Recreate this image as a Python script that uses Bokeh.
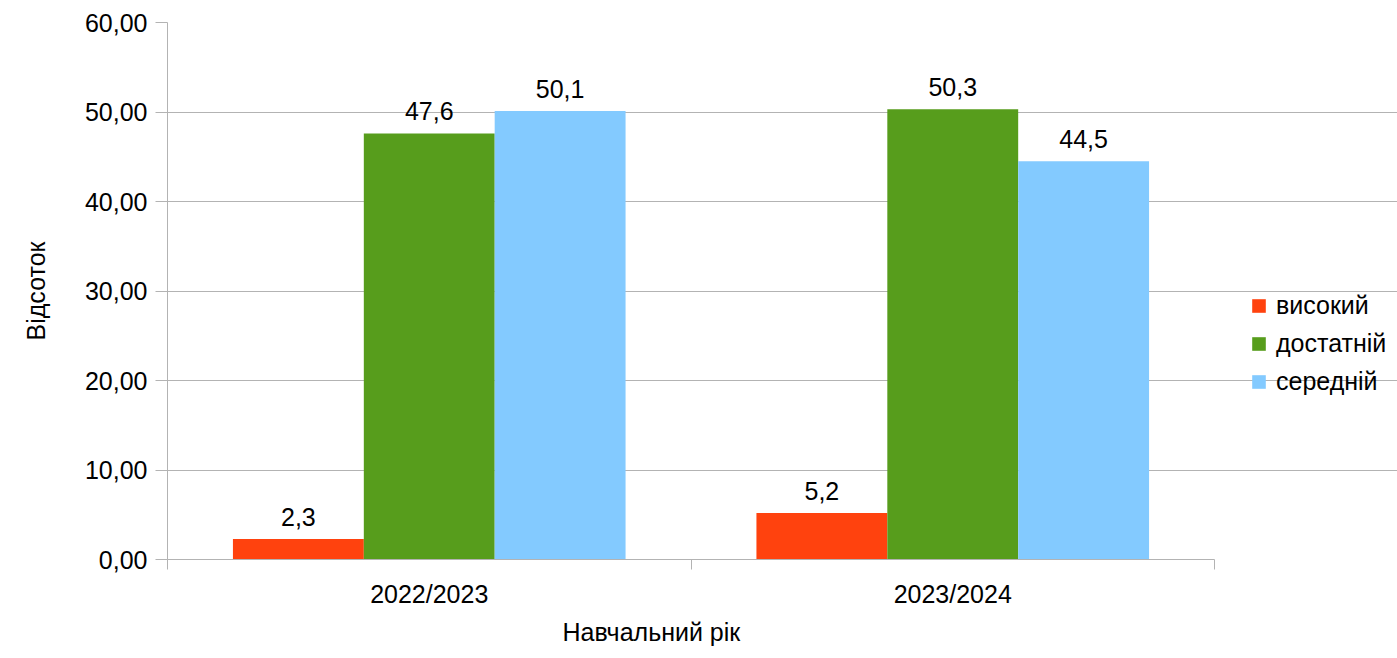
from bokeh.plotting import figure
from bokeh.models import (Range1d, FixedTicker, ColumnDataSource, LabelSet, Legend, LegendItem, Title)
from bokeh.core.properties import value
from bokeh.embed import file_html
from bokeh.resources import INLINE

# ---- data ----
categories = ["2022/2023", "2023/2024"]
series_names = ["високий", "достатній", "середній"]
vysokyi = [2.3, 5.2]
dostatnii = [47.6, 50.3]
serednii = [50.1, 44.5]
series_values = [vysokyi, dostatnii, serednii]
y_ticks = [0, 10, 20, 30, 40, 50, 60]
y_tick_labels = ["0,00", "10,00", "20,00", "30,00", "40,00", "50,00", "60,00"]
colors = ["#ff420e", "#579d1c", "#83caff"]
offsets = [-0.25, 0.0, 0.25]
FONT = "Liberation Sans"
FS = "25px"

# plot area spans 167..1214 px for the categories; frame extended to the right edge
# so that the legend (drawn inside the frame) is not clipped
n = len(categories)
x_end = n * (1397 - 167) / (1214 - 167)

p = figure(width=1397, height=658, x_range=Range1d(0, x_end), y_range=Range1d(0, 60),
           output_backend="svg", toolbar_location=None,
           min_border_left=167, min_border_right=0, min_border_top=22, min_border_bottom=99)
p.outline_line_color = None
p.background_fill_color = "white"
p.border_fill_color = "white"

p.xgrid.grid_line_color = None
p.ygrid.grid_line_color = "#b3b3b3"
p.ygrid.ticker = FixedTicker(ticks=y_ticks)
p.ygrid.bounds = (0, n)

# y axis
yax = p.yaxis[0]
yax.ticker = FixedTicker(ticks=y_ticks, minor_ticks=[])
yax.major_label_overrides = {t: l for t, l in zip(y_ticks, y_tick_labels)}
yax.axis_line_color = "#b3b3b3"
yax.major_tick_line_color = "#b3b3b3"
yax.major_tick_out = 12
yax.major_tick_in = 0
yax.minor_tick_line_color = None
yax.major_label_standoff = 8
yax.major_label_text_font = FONT
yax.major_label_text_font_size = FS
yax.major_label_text_color = "black"
yax.axis_label = "Відсоток"
yax.axis_label_text_font = FONT
yax.axis_label_text_font_size = FS
yax.axis_label_text_font_style = "normal"
yax.axis_label_text_color = "black"
yax.axis_label_standoff = 32

# x axis: labels at centres, ticks at boundaries (minor ticks)
xax = p.xaxis[0]
centres = [i + 0.5 for i in range(n)]
bounds = [i for i in range(n + 1)]
xax.ticker = FixedTicker(ticks=centres, minor_ticks=bounds)
xax.bounds = (0, n)
xax.major_label_overrides = {c: cat for c, cat in zip(centres, categories)}
xax.axis_line_color = "#b3b3b3"
xax.major_tick_line_color = None
xax.major_tick_out = 10
xax.major_tick_in = 0
xax.minor_tick_line_color = "#b3b3b3"
xax.minor_tick_out = 10
xax.minor_tick_in = 0
xax.major_label_standoff = 10
xax.major_label_text_font = FONT
xax.major_label_text_font_size = FS
xax.major_label_text_color = "black"

xt = Title(text="Навчальний рік", text_font=FONT, text_font_size=FS, text_font_style="normal",
           text_color="black", align="left", offset=395, standoff=10)
p.add_layout(xt, "below")

items = []
for name, vals, col, off in zip(series_names, series_values, colors, offsets):
    src = ColumnDataSource(dict(x=[c + off for c in centres], top=vals,
                                text=[("%.1f" % v).replace(".", ",") for v in vals]))
    r = p.vbar(x="x", top="top", width=0.25, bottom=0, source=src, fill_color=col, line_color=None)
    p.add_layout(LabelSet(x="x", y="top", text="text", source=src, y_offset=13,
                          text_align="center", text_baseline="alphabetic",
                          text_font=value(FONT), text_font_size=value(FS), text_color="black"))
    items.append(LegendItem(label=name, renderers=[r]))

legend = Legend(items=items, location=(1083, 163), orientation="vertical",
                border_line_color=None, background_fill_alpha=0, padding=0, margin=0,
                glyph_width=17, glyph_height=17, label_height=17, spacing=9, label_standoff=9,
                label_text_font=FONT, label_text_font_size=FS, label_text_color="black")
p.add_layout(legend)

open("out.html", "w").write(file_html(p, INLINE))
